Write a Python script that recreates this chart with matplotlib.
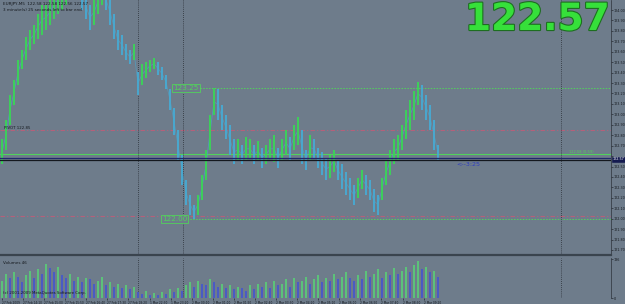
import matplotlib
matplotlib.use("Agg")
import matplotlib.pyplot as plt
import matplotlib.patheffects as pe
from matplotlib.transforms import blended_transform_factory
import numpy as np

# ---------------- data ----------------
highs = [122.76,122.95,123.19,123.33,123.52,123.62,123.74,123.81,123.86,123.96,
         124.05,124.05,124.10,124.20,124.24,124.29,124.34,124.34,124.39,124.34,
         124.24,124.15,124.05,124.10,124.20,124.29,124.20,124.10,123.96,123.81,
         123.76,123.67,123.62,123.67,123.41,123.48,123.50,123.52,123.54,123.50,
         123.45,123.38,123.24,123.06,122.85,122.61,122.37,122.23,122.13,122.23,
         122.42,122.66,122.99,123.25,123.24,123.09,122.99,122.90,122.76,122.76,
         122.71,122.78,122.76,122.71,122.74,122.68,122.71,122.76,122.80,122.68,
         122.76,122.85,122.78,122.90,122.97,122.85,122.66,122.80,122.76,122.68,
         122.64,122.58,122.61,122.66,122.56,122.52,122.45,122.39,122.32,122.39,
         122.47,122.42,122.37,122.28,122.23,122.39,122.56,122.66,122.76,122.80,
         122.90,123.04,123.14,123.22,123.31,123.28,123.19,123.09,122.95,122.71]
lows = [122.52,122.66,122.90,123.09,123.28,123.43,123.52,123.62,123.67,123.72,
        123.76,123.81,123.86,123.91,123.96,124.00,124.05,124.10,124.15,124.10,
        124.00,123.91,123.81,123.86,123.96,124.05,124.00,123.86,123.72,123.62,
        123.57,123.52,123.48,123.52,123.19,123.28,123.35,123.41,123.43,123.38,
        123.33,123.24,123.04,122.80,122.56,122.32,122.13,122.04,122.00,122.04,
        122.18,122.37,122.66,122.99,122.95,122.85,122.76,122.61,122.52,122.56,
        122.52,122.56,122.58,122.52,122.56,122.49,122.52,122.58,122.54,122.49,
        122.56,122.61,122.56,122.66,122.71,122.52,122.47,122.56,122.58,122.49,
        122.42,122.37,122.39,122.45,122.37,122.28,122.23,122.18,122.13,122.20,
        122.28,122.23,122.18,122.06,122.04,122.18,122.32,122.42,122.52,122.56,
        122.66,122.76,122.85,122.95,123.09,123.04,122.95,122.85,122.66,122.56]
volumes = [60,85,70,90,75,55,80,95,70,100,
           85,120,105,90,110,80,70,85,60,75,
           55,70,65,50,60,75,45,55,40,50,
           35,45,30,40,20,15,25,12,18,10,
           22,15,30,20,35,25,45,55,40,60,
           50,45,65,55,40,50,35,45,30,40,
           35,25,45,30,50,40,55,35,60,45,
           50,65,40,70,55,60,75,50,65,80,
           55,70,60,85,65,75,90,70,60,80,
           65,95,75,85,100,70,90,80,105,85,
           95,110,90,115,128,100,110,90,95,75]

last_price = 122.57
level_high = 123.25
level_low = 122.00
red_levels = [122.85, 122.03]
green_level = 122.62
bid_lines = [122.585, 122.565]
price_ticks = [121.70,121.80,121.90,122.00,122.10,122.20,122.30,122.40,122.50,122.60,
               122.70,122.80,122.90,123.00,123.10,123.20,123.30,123.40,123.50,123.60,
               123.70,123.80,123.90,124.00]
price_tick_labels = ["121.70","121.80","121.90","122.00","122.10","122.20","122.30","122.40","122.50","",
                     "122.70","122.80","122.90","123.00","123.10","123.20","123.30","123.40","123.50","123.60",
                     "123.70","123.80","123.90","124.00"]
vol_ticks = [0, 136]
time_labels = ["27 Feb 2009","27 Feb 14:10","27 Feb 15:00","27 Feb 15:50","27 Feb 16:40",
               "27 Feb 17:30","27 Feb 18:20","1 Mar 22:30","1 Mar 23:20","2 Mar 00:10",
               "2 Mar 01:00","2 Mar 01:50","2 Mar 02:40","2 Mar 03:30","2 Mar 04:20",
               "2 Mar 05:10","2 Mar 06:00","2 Mar 06:50","2 Mar 07:40","2 Mar 08:30",
               "2 Mar 09:20"]
separators = [34.0, 45.25, 139.75]

# ---------------- style ----------------
bg = "#6e7c8b"
up_c = "#3dd05a"
dn_c = "#49a8cf"
vol_up = "#5cc27a"
vol_dn = "#4a5bc4"
txt = "#15191e"
sep_c = "#2a2f36"
red_c = "#b5607a"
grn_c = "#52d25c"

W, H = 625, 304
AXW = 611
fig = plt.figure(figsize=(W/100, H/100), dpi=100, facecolor=bg)

xmin = -0.5
xmax = xmin + AXW / 4.0
ax = fig.add_axes([0, 49/H, AXW/W, 255/H], facecolor=bg)
axv = fig.add_axes([0, 6/H, AXW/W, 40/H], facecolor=bg)

n = len(highs)
idx = np.arange(n)
mids = [(h + l) / 2 for h, l in zip(highs, lows)]
cols = [up_c if i == 0 or mids[i] >= mids[i-1] else dn_c for i in range(n)]
ax.vlines(idx, lows, highs, colors=cols, linewidth=1.4, zorder=3)
ax.plot(idx, mids, color=dn_c, linewidth=0.6, alpha=0.6, zorder=2)

ax.set_xlim(xmin, xmax)
ax.set_ylim(121.652, 124.096)

# horizontal levels
for r in red_levels:
    ax.axhline(r, color=red_c, linewidth=0.8, linestyle=(0, (4, 2, 1, 2)), zorder=1)
ax.axhline(green_level, color=grn_c, linewidth=0.8, zorder=1)
ax.axhline(bid_lines[0], color="#202a6a", linewidth=0.9, zorder=4)
ax.axhline(bid_lines[1], color="#14181e", linewidth=0.9, zorder=4)
ax.hlines(level_high, 48, xmax, colors=grn_c, linewidth=0.7, linestyles=(0, (1.5, 1.5)), zorder=1)
ax.hlines(level_low, 45.5, xmax, colors=grn_c, linewidth=0.7, linestyles=(0, (1.5, 1.5)), zorder=1)

ax.text(42.8, level_high, f"{level_high:.2f}", fontsize=5.2, color=grn_c, va="center", ha="left",
        bbox=dict(boxstyle="square,pad=0.15", fc=bg, ec=grn_c, lw=0.6), zorder=5)
ax.text(40.0, level_low, f"{level_low:.2f}", fontsize=5.2, color=grn_c, va="center", ha="left",
        bbox=dict(boxstyle="square,pad=0.15", fc=bg, ec=grn_c, lw=0.6), zorder=5)

ax.text(0.5, red_levels[0] + 0.02, "PIVOT 122.85", fontsize=2.8, color=txt, va="center", ha="left")
ax.text(148.0, green_level + 0.02, "122.58 (0.59)", fontsize=2.6, color=grn_c, va="center", ha="right")
ax.text(113.5, 122.52, "<--3:25", fontsize=4.6, color="#2e3cc0", va="center", ha="left")

# separators
for s in separators:
    ax.axvline(s, color=sep_c, linewidth=0.6, linestyle=(0, (1, 1.5)), zorder=1)
    axv.axvline(s, color=sep_c, linewidth=0.6, linestyle=(0, (1, 1.5)), zorder=1)

# right price axis
ax.yaxis.tick_right()
ax.set_yticks(price_ticks)
ax.set_yticklabels(price_tick_labels)
ax.tick_params(axis="y", labelsize=2.4, colors=txt, length=1.2, width=0.4, pad=0.6)
ax.set_xticks([])
for s in ["left", "top"]:
    ax.spines[s].set_visible(False)
ax.spines["right"].set_color("#2c323a")
ax.spines["right"].set_linewidth(0.5)
ax.spines["bottom"].set_color("#3a444e")
ax.spines["bottom"].set_linewidth(1.6)

# current price box
trans = blended_transform_factory(ax.transAxes, ax.transData)
ax.text(1.003, last_price, f"{last_price:.2f}", transform=trans, fontsize=2.4, color="white",
        va="center", ha="left", bbox=dict(boxstyle="square,pad=0.2", fc="#141a50", ec="#141a50", lw=0.4),
        clip_on=False, zorder=6)

# header text
fig.text(3/W, 1 - 4/H, "EURJPY,M5  122.58 122.58 122.56 122.57", fontsize=3.0, color=txt, va="center")
fig.text(3/W, 1 - 10/H, "3 minute(s) 25 seconds left to bar end", fontsize=3.0, color=txt, va="center")

# big price
fig.text(610/W, 1 - 20/H, f"{last_price:.2f}", fontsize=27, fontweight="bold", color="#36e03a",
         ha="right", va="center", family="DejaVu Sans",
         path_effects=[pe.withStroke(linewidth=1.6, foreground="#1d6e20")])

# volume panel
vcols = [vol_up if i == 0 or volumes[i] >= volumes[i-1] else vol_dn for i in range(n)]
axv.bar(idx, volumes, width=0.45, color=vcols, linewidth=0, zorder=3)
axv.set_xlim(xmin, xmax)
axv.set_ylim(0, 140)
axv.yaxis.tick_right()
axv.set_yticks(vol_ticks)
axv.set_yticklabels([str(v) for v in vol_ticks])
axv.tick_params(axis="y", labelsize=2.4, colors=txt, length=1.2, width=0.4, pad=0.6)
tick_pos = [k * 5.27 for k in range(len(time_labels))]
axv.set_xticks(tick_pos)
axv.set_xticklabels(time_labels, ha="left")
axv.tick_params(axis="x", labelsize=2.1, colors=txt, length=1.2, width=0.4, pad=0.6)
for s in ["left", "top", "bottom"]:
    axv.spines[s].set_visible(False)
axv.spines["right"].set_color("#2c323a")
axv.spines["right"].set_linewidth(0.5)
axv.text(3/AXW, 0.93, "Volumes 46", transform=axv.transAxes, fontsize=3.0, color=txt, va="top")
axv.text(3/AXW, 0.08, "(c) 2001-2009 MetaQuotes Software Corp.", transform=axv.transAxes,
         fontsize=2.8, color=txt, va="bottom", zorder=5)

fig.savefig("out.png", dpi=100, facecolor=bg)
